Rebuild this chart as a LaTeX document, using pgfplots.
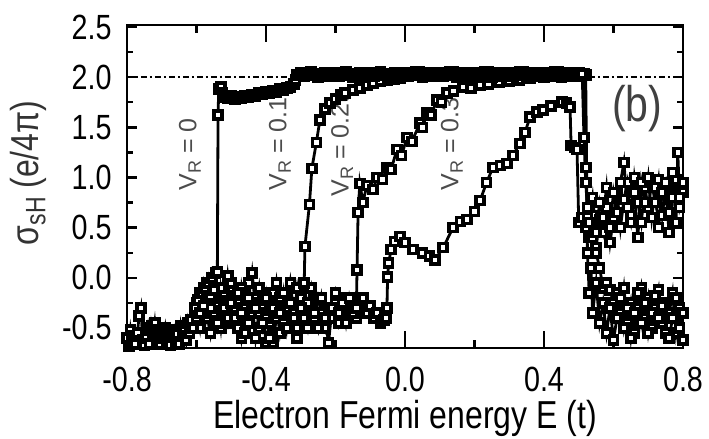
\documentclass[border=0pt]{standalone}
\usepackage{fontspec}
\usepackage{graphicx}
\usepackage{pgfplots}
\pgfplotsset{compat=1.18}
\usepackage{pgfplotstable}
\newfontfamily\figfont{Liberation Sans}[FakeStretch=0.82]
\newfontfamily\vrfamily{Liberation Sans}
\newcommand\sub[1]{\raisebox{-0.35ex}{\scalebox{0.72}{#1}}}
\newcommand\tickfont{\figfont\fontsize{17.5pt}{20pt}\selectfont}
\newcommand\labelfont{\figfont\fontsize{19.5pt}{22pt}\selectfont}
\newcommand\vrfont{\vrfamily\fontsize{12.5pt}{14pt}\selectfont}

% spin Hall conductance vs Fermi energy, V_R = 0
\pgfplotstableread{
E s
-0.800 -0.60
-0.795 -0.68
-0.790 -0.52
-0.785 -0.64
-0.780 -0.58
-0.775 -0.66
-0.770 -0.55
-0.765 -0.38
-0.760 -0.30
-0.755 -0.62
-0.750 -0.67
-0.745 -0.60
-0.740 -0.50
-0.735 -0.66
-0.730 -0.48
-0.725 -0.58
-0.720 -0.45
-0.715 -0.62
-0.710 -0.52
-0.705 -0.66
-0.700 -0.55
-0.695 -0.60
-0.690 -0.50
-0.685 -0.64
-0.680 -0.54
-0.675 -0.67
-0.670 -0.58
-0.665 -0.52
-0.660 -0.63
-0.655 -0.56
-0.650 -0.66
-0.645 -0.48
-0.640 -0.58
-0.635 -0.50
-0.630 -0.62
-0.625 -0.45
-0.620 -0.55
-0.615 -0.42
-0.610 -0.50
-0.605 -0.30
-0.600 -0.40
-0.595 -0.22
-0.590 -0.35
-0.585 -0.15
-0.580 -0.28
-0.575 -0.10
-0.570 -0.20
-0.565 -0.05
-0.560 -0.18
-0.555 0.00
-0.550 -0.12
-0.545 0.05
-0.540 0.06
-0.538 1.62
-0.536 1.88
-0.530 1.90
-0.525 1.84
-0.520 1.80
-0.510 1.79
-0.500 1.81
-0.490 1.78
-0.480 1.80
-0.470 1.79
-0.460 1.81
-0.450 1.80
-0.440 1.82
-0.430 1.81
-0.420 1.84
-0.410 1.83
-0.400 1.85
-0.390 1.84
-0.380 1.86
-0.370 1.85
-0.360 1.88
-0.350 1.87
-0.340 1.89
-0.330 1.90
-0.320 1.93
-0.315 1.97
-0.310 2.02
-0.30 2.04
-0.29 2.01
-0.28 2.03
-0.27 2.05
-0.26 2.02
-0.25 2.00
-0.24 2.03
-0.23 2.04
-0.22 2.01
-0.21 2.02
-0.20 2.04
-0.19 2.01
-0.18 2.03
-0.17 2.05
-0.16 2.02
-0.15 2.00
-0.14 2.03
-0.13 2.04
-0.12 2.01
-0.11 2.02
-0.10 2.04
-0.09 2.01
-0.08 2.03
-0.07 2.05
-0.06 2.02
-0.05 2.00
-0.04 2.03
-0.03 2.04
-0.02 2.01
-0.01 2.02
0.00 2.04
0.01 2.01
0.02 2.03
0.03 2.05
0.04 2.02
0.05 2.00
0.06 2.03
0.07 2.04
0.08 2.01
0.09 2.02
0.10 2.04
0.11 2.01
0.12 2.03
0.13 2.05
0.14 2.02
0.15 2.00
0.16 2.03
0.17 2.04
0.18 2.01
0.19 2.02
0.20 2.04
0.21 2.01
0.22 2.03
0.23 2.05
0.24 2.02
0.25 2.00
0.26 2.03
0.27 2.04
0.28 2.01
0.29 2.02
0.30 2.04
0.31 2.01
0.32 2.03
0.33 2.05
0.34 2.02
0.35 2.00
0.36 2.03
0.37 2.04
0.38 2.01
0.39 2.02
0.40 2.04
0.41 2.01
0.42 2.03
0.43 2.05
0.44 2.02
0.45 2.00
0.46 2.03
0.47 2.04
0.48 2.01
0.49 2.02
0.50 2.04
0.51 2.03
0.515 1.40
0.520 0.95
0.525 0.70
0.53 0.55
0.54 0.80
0.55 0.45
0.56 0.75
0.57 0.60
0.58 0.90
0.59 0.50
0.60 0.85
0.61 0.65
0.62 0.95
0.63 1.15
0.64 0.70
0.65 0.55
0.66 0.85
0.67 0.40
0.68 0.95
0.69 0.75
0.70 1.00
0.71 0.60
0.72 0.90
0.73 0.50
0.74 0.85
0.75 0.95
0.76 0.65
0.77 1.05
0.78 0.55
0.785 1.25
0.79 0.80
0.80 0.95
}\dataA

% V_R = 0.1t
\pgfplotstableread{
E s
-0.60 -0.40
-0.59 -0.15
-0.58 -0.35
-0.57 -0.05
-0.56 -0.30
-0.55 -0.20
-0.54 -0.45
-0.53 -0.10
-0.52 -0.30
-0.51 0.02
-0.50 -0.25
-0.49 -0.40
-0.48 -0.15
-0.47 -0.35
-0.46 -0.55
-0.45 -0.20
-0.44 0.05
-0.43 -0.30
-0.42 -0.10
-0.41 -0.45
-0.40 -0.20
-0.39 -0.60
-0.38 -0.30
-0.37 -0.05
-0.36 -0.35
-0.35 -0.15
-0.34 -0.50
-0.33 -0.25
-0.32 -0.40
-0.31 -0.10
-0.30 -0.30
-0.29 -0.05
-0.288 0.31
-0.275 0.73
-0.268 1.09
-0.255 1.35
-0.245 1.57
-0.230 1.68
-0.216 1.74
-0.200 1.78
-0.185 1.82
-0.173 1.84
-0.150 1.87
-0.130 1.89
-0.110 1.92
-0.092 1.94
-0.070 1.96
-0.050 1.97
-0.030 1.98
-0.014 1.99
0.00 2.01
0.02 2.03
0.04 2.05
0.06 2.02
0.08 2.04
0.10 2.01
0.12 2.03
0.14 2.05
0.16 2.02
0.18 2.04
0.20 2.01
0.22 2.03
0.24 2.05
0.26 2.02
0.28 2.04
0.30 2.01
0.32 2.03
0.34 2.05
0.36 2.02
0.38 2.04
0.40 2.01
0.42 2.03
0.44 2.05
0.46 2.02
0.48 2.04
0.50 2.01
0.52 2.02
0.525 0.25
0.53 -0.15
0.535 0.10
0.54 -0.35
0.55 -0.05
0.56 -0.45
0.57 -0.25
0.58 -0.55
0.59 -0.30
0.60 -0.62
0.61 -0.40
0.62 -0.20
0.63 -0.50
0.64 -0.30
0.65 -0.60
0.66 -0.35
0.67 -0.15
0.68 -0.45
0.69 -0.25
0.70 -0.55
0.71 -0.35
0.72 -0.18
0.73 -0.40
0.74 -0.28
0.75 -0.55
0.76 -0.60
0.77 -0.40
0.78 -0.20
0.79 -0.50
0.80 -0.35
}\dataB

% V_R = 0.2t
\pgfplotstableread{
E s
-0.60 -0.30
-0.59 -0.50
-0.58 -0.20
-0.57 -0.40
-0.56 -0.10
-0.55 -0.35
-0.54 -0.25
-0.53 -0.50
-0.52 -0.15
-0.51 -0.40
-0.50 -0.05
-0.49 -0.30
-0.48 -0.50
-0.47 -0.10
-0.46 -0.30
-0.45 -0.45
-0.44 -0.25
-0.43 -0.60
-0.42 -0.35
-0.41 -0.15
-0.40 -0.40
-0.39 -0.25
-0.38 -0.65
-0.37 -0.40
-0.36 -0.20
-0.35 -0.45
-0.34 -0.30
-0.33 -0.05
-0.32 -0.35
-0.31 -0.50
-0.30 -0.20
-0.29 -0.40
-0.28 -0.25
-0.27 -0.10
-0.26 -0.35
-0.25 -0.50
-0.24 -0.20
-0.23 -0.40
-0.22 -0.65
-0.21 -0.30
-0.20 -0.15
-0.19 -0.35
-0.18 -0.25
-0.17 -0.45
-0.16 -0.20
-0.15 -0.35
-0.14 -0.30
-0.138 0.08
-0.135 0.65
-0.130 0.94
-0.121 0.75
-0.110 0.92
-0.092 0.88
-0.080 1.00
-0.065 0.98
-0.052 1.10
-0.040 1.08
-0.023 1.28
-0.010 1.22
0.006 1.40
0.020 1.36
0.043 1.54
0.050 1.50
0.063 1.64
0.075 1.62
0.092 1.77
0.105 1.75
0.121 1.84
0.140 1.86
0.167 1.90
0.190 1.89
0.216 1.92
0.240 1.93
0.270 1.95
0.300 1.96
0.330 1.97
0.360 1.99
0.400 2.00
0.440 2.01
0.480 2.02
0.515 2.03
0.520 1.10
0.525 0.60
0.53 0.55
0.54 0.40
0.55 0.25
0.56 0.10
0.57 -0.10
0.58 -0.05
0.59 -0.12
0.60 -0.25
0.61 -0.15
0.62 -0.35
0.63 -0.10
0.64 -0.45
0.65 -0.25
0.66 -0.55
0.67 -0.30
0.68 -0.10
0.69 -0.40
0.70 -0.20
0.71 -0.50
0.72 -0.30
0.73 -0.12
0.74 -0.45
0.75 -0.25
0.76 -0.35
0.77 -0.15
0.78 -0.55
0.79 -0.30
0.80 -0.62
}\dataC

% V_R = 0.3t
\pgfplotstableread{
E s
-0.60 -0.25
-0.59 -0.45
-0.58 -0.10
-0.57 -0.35
-0.56 -0.55
-0.55 -0.25
-0.54 -0.40
-0.53 -0.20
-0.52 -0.45
-0.51 -0.30
-0.50 -0.10
-0.49 -0.45
-0.48 -0.25
-0.47 -0.60
-0.46 -0.40
-0.45 -0.05
-0.44 -0.35
-0.43 -0.20
-0.42 -0.50
-0.41 -0.30
-0.40 -0.65
-0.39 -0.45
-0.38 -0.15
-0.37 -0.30
-0.36 -0.55
-0.35 -0.35
-0.34 -0.20
-0.33 -0.45
-0.32 -0.30
-0.31 -0.60
-0.30 -0.15
-0.29 -0.35
-0.28 -0.50
-0.27 -0.25
-0.26 -0.40
-0.25 -0.20
-0.24 -0.35
-0.23 -0.50
-0.22 -0.30
-0.21 -0.40
-0.20 -0.25
-0.19 -0.45
-0.18 -0.30
-0.17 -0.20
-0.16 -0.35
-0.15 -0.25
-0.14 -0.40
-0.13 -0.30
-0.12 -0.20
-0.11 -0.35
-0.10 -0.28
-0.09 -0.40
-0.08 -0.35
-0.07 -0.45
-0.06 -0.42
-0.055 -0.40
-0.052 -0.30
-0.050 0.01
-0.047 0.15
-0.040 0.28
-0.030 0.36
-0.014 0.41
0.000 0.35
0.023 0.28
0.050 0.25
0.070 0.22
0.086 0.18
0.110 0.30
0.138 0.50
0.160 0.56
0.178 0.58
0.200 0.66
0.216 0.77
0.235 0.95
0.253 1.10
0.275 1.12
0.294 1.14
0.310 1.22
0.331 1.34
0.345 1.45
0.360 1.60
0.380 1.65
0.397 1.67
0.420 1.71
0.452 1.75
0.465 1.74
0.475 1.70
0.478 1.32
0.490 1.30
0.495 1.28
0.500 0.55
0.51 0.60
0.52 0.50
0.53 0.40
0.54 0.62
0.55 0.30
0.56 0.58
0.57 0.45
0.58 0.70
0.59 0.35
0.60 0.60
0.61 0.85
0.62 0.50
0.63 0.78
0.64 0.95
0.65 0.62
0.66 1.00
0.67 0.75
0.68 0.55
0.69 0.90
0.70 0.70
0.71 0.95
0.72 0.75
0.73 0.98
0.74 0.62
0.75 0.88
0.76 0.45
0.77 0.80
0.78 0.98
0.79 0.70
0.80 0.85
}\dataD

\begin{document}
\begin{tikzpicture}
\begin{axis}[
  scale only axis,
  width=278pt, height=161.5pt,
  xmin=-0.8, xmax=0.8, ymin=-0.70, ymax=2.52,
  xtick={-0.8,-0.4,0,0.4,0.8}, minor x tick num=1,
  ytick={-0.5,0,0.5,1.0,1.5,2.0,2.5}, minor y tick num=1,
  tick align=inside,
  axis line style={line width=1.3pt},
  tick style={black, line width=1.2pt},
  xtick style={/pgfplots/major tick length=8.5pt, /pgfplots/minor tick length=4pt},
  ytick style={/pgfplots/major tick length=5pt, /pgfplots/minor tick length=3pt},
  /pgf/number format/.cd, fixed, fixed zerofill, precision=1, assume math mode=true,
  /pgfplots/.cd,
  tick label style={font=\tickfont},
  xticklabel style={anchor=base, inner sep=0pt, yshift=-22pt},
  yticklabel style={anchor=east, inner sep=0pt, xshift=-7.5pt},
  xlabel={Electron Fermi energy E (t)},
  xlabel style={font=\labelfont, at={(axis description cs:0.5,-0.248)}, anchor=base},
  ylabel={σ\sub{sH} (e/4π)},
  ylabel style={font=\labelfont, text=black!80, at={(axis description cs:-0.178,0.542)}, anchor=center, rotate=0},
  dat/.style={black, line width=1.4pt, mark=square*, mark size=2.0pt,
    mark options={solid, fill=white, line width=1.8pt}},
  clip=true,
]
\addplot[black, line width=1.1pt, no marks,
  dash pattern=on 3pt off 1.5pt on 1pt off 1.5pt] coordinates {(-0.8,2) (0.8,2)};

\node[font=\vrfont, text=black!70, rotate=90, anchor=west] at (axis cs:-0.619,0.80) {V\sub{R} = 0};
\node[font=\vrfont, text=black!70, rotate=90, anchor=west] at (axis cs:-0.360,0.80) {V\sub{R} = 0.1t};
\node[font=\vrfont, text=black!70, rotate=90, anchor=west] at (axis cs:-0.181,0.74) {V\sub{R} = 0.2t};
\node[font=\vrfont, text=black!70, rotate=90, anchor=west] at (axis cs:0.135,0.80) {V\sub{R} = 0.3t};

\addplot[dat] table[x=E, y=s] {\dataD};
\addplot[dat] table[x=E, y=s] {\dataC};
\addplot[dat] table[x=E, y=s] {\dataB};
\addplot[dat] table[x=E, y=s] {\dataA};

\node[font=\figfont\fontsize{25pt}{28pt}\selectfont, text=black!75] at (axis cs:0.668,1.69) {(b)};
\end{axis}
\pgfresetboundingbox
\path[use as bounding box] (-63.5pt,-45.5pt) rectangle (291pt,174pt);
\end{tikzpicture}
\end{document}
